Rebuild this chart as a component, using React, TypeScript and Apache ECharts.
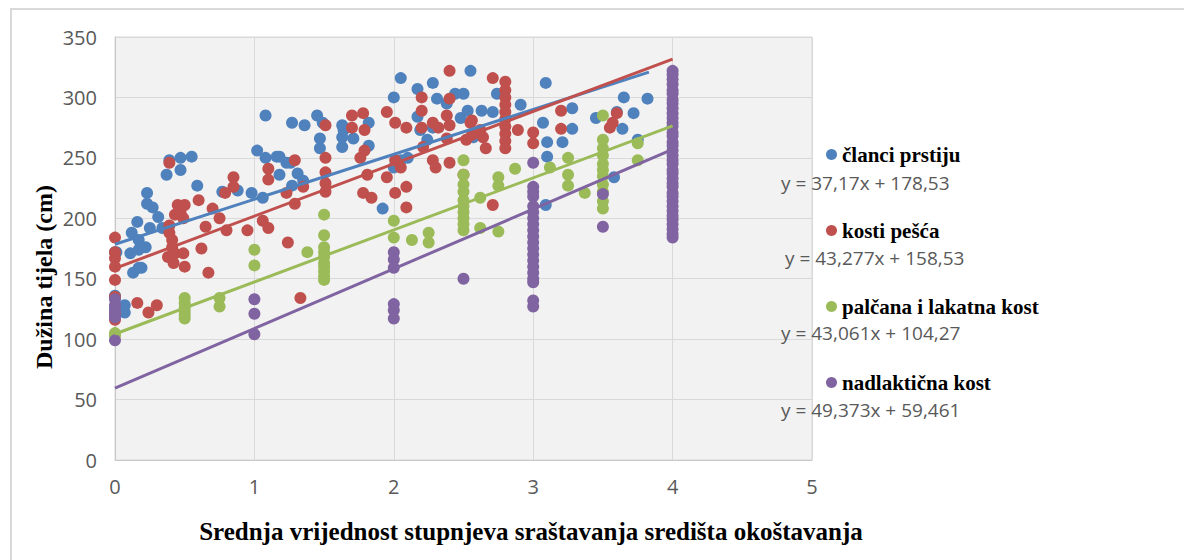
import React, { useEffect, useRef } from "react";
import * as echarts from "echarts";

// ---------- data ----------
const seriesNames = ["članci prstiju", "kosti pešća", "palčana i lakatna kost", "nadlaktična kost"];
const seriesColors = ["#4F81BD", "#C0504D", "#9BBB59", "#8064A2"];

const clanciPrstiju: number[][] = [
  [0, 172], [0, 136], [0, 126], [0.01, 172], [0.07, 128], [0.07, 122], [0.11, 171], [0.12, 188], [0.13, 155],
  [0.16, 197], [0.17, 182], [0.17, 174], [0.17, 159], [0.19, 159], [0.22, 176], [0.23, 221], [0.23, 212],
  [0.25, 192], [0.27, 209], [0.31, 201], [0.34, 192], [0.37, 236], [0.39, 248], [0.47, 250], [0.47, 240],
  [0.55, 251], [0.59, 227], [0.77, 222], [0.88, 223], [0.98, 221], [1.02, 256], [1.06, 217], [1.08, 250],
  [1.08, 285], [1.16, 251], [1.18, 251], [1.18, 236], [1.23, 246], [1.26, 246], [1.27, 227], [1.27, 279],
  [1.31, 237], [1.35, 231], [1.36, 277], [1.45, 285], [1.47, 266], [1.47, 258], [1.49, 279], [1.63, 277],
  [1.63, 267], [1.63, 259], [1.64, 273], [1.71, 266], [1.82, 279], [1.82, 260], [1.92, 208], [2.0, 300],
  [2.0, 242], [2.05, 316], [2.05, 248], [2.1, 250], [2.17, 307], [2.17, 284], [2.19, 273], [2.24, 265],
  [2.28, 312], [2.28, 275], [2.31, 299], [2.38, 295], [2.44, 303], [2.48, 283], [2.5, 303], [2.53, 289],
  [2.55, 322], [2.57, 267], [2.63, 289], [2.71, 288], [2.74, 303], [2.91, 294], [3.07, 279], [3.09, 312],
  [3.09, 211], [3.1, 263], [3.1, 251], [3.21, 263], [3.28, 291], [3.28, 274], [3.45, 283], [3.58, 234],
  [3.6, 288], [3.64, 274], [3.65, 300], [3.72, 287], [3.75, 265], [3.82, 299],
];

const kostiPesca: number[][] = [
  [0, 184], [0, 172], [0, 167], [0, 160], [0, 149], [0, 135], [0, 121], [0, 116], [0.16, 130], [0.24, 122],
  [0.3, 128], [0.38, 168], [0.39, 246], [0.39, 194], [0.39, 188], [0.41, 182], [0.41, 176], [0.42, 163],
  [0.43, 171], [0.43, 203], [0.45, 211], [0.47, 205], [0.49, 200], [0.49, 171], [0.5, 211], [0.5, 160],
  [0.6, 215], [0.62, 175], [0.65, 193], [0.67, 155], [0.7, 208], [0.75, 200], [0.79, 221], [0.8, 190],
  [0.85, 234], [0.85, 226], [0.95, 190], [1.06, 198], [1.1, 192], [1.1, 241], [1.1, 232], [1.23, 221],
  [1.24, 180], [1.29, 248], [1.29, 212], [1.33, 134], [1.35, 226], [1.51, 277], [1.51, 250], [1.51, 238],
  [1.51, 229], [1.51, 222], [1.7, 285], [1.7, 275], [1.76, 250], [1.78, 287], [1.78, 221], [1.79, 273],
  [1.79, 256], [1.81, 236], [1.84, 217], [1.95, 288], [1.95, 234], [2.01, 279], [2.01, 248], [2.01, 221],
  [2.05, 242], [2.09, 275], [2.09, 226], [2.09, 209], [2.2, 300], [2.2, 289], [2.2, 275], [2.21, 259],
  [2.28, 279], [2.28, 248], [2.3, 242], [2.32, 275], [2.38, 285], [2.38, 266], [2.4, 322], [2.4, 299],
  [2.4, 277], [2.4, 246], [2.5, 236], [2.52, 265], [2.55, 279], [2.56, 269], [2.56, 281], [2.62, 273],
  [2.64, 267], [2.66, 258], [2.71, 316], [2.71, 211], [2.8, 313], [2.8, 306], [2.8, 300], [2.8, 294],
  [2.8, 288], [2.8, 282], [2.8, 276], [2.8, 270], [2.8, 264], [2.8, 258], [2.89, 273], [3.0, 271],
  [3.0, 262], [3.2, 289], [3.2, 274], [3.55, 275], [3.57, 279], [3.6, 287],
];

const palcanaLakatna: number[][] = [
  [0, 105], [0, 103], [0.5, 134], [0.5, 130], [0.5, 126], [0.5, 123], [0.5, 120], [0.5, 117], [0.75, 134],
  [0.75, 127], [1, 174], [1, 161], [1.38, 172], [1.5, 203], [1.5, 186], [1.5, 176], [1.5, 172], [1.5, 168],
  [1.5, 163], [1.5, 160], [1.5, 156], [1.5, 152], [1.5, 149], [2, 198], [2, 184], [2.13, 182], [2.25, 188],
  [2.25, 180], [2.5, 248], [2.5, 236], [2.5, 228], [2.5, 222], [2.5, 215], [2.5, 210], [2.5, 205], [2.5, 200],
  [2.5, 195], [2.5, 190], [2.62, 217], [2.62, 192], [2.75, 234], [2.75, 227], [2.75, 189], [2.87, 241],
  [3.12, 242], [3.25, 250], [3.25, 236], [3.25, 227], [3.37, 221], [3.5, 285], [3.5, 265], [3.5, 258],
  [3.5, 252], [3.5, 245], [3.5, 240], [3.5, 235], [3.5, 228], [3.5, 222], [3.5, 214], [3.5, 208],
  [3.75, 262], [3.75, 248],
];

const nadlakticna: number[][] = [
  [0, 133], [0, 128], [0, 124], [0, 120], [0, 118], [0, 99], [1, 133], [1, 121], [1, 104], [2, 172],
  [2, 166], [2, 159], [2, 129], [2, 124], [2, 117], [2.5, 150], [3, 246], [3, 226], [3, 222], [3, 218],
  [3, 210], [3, 205], [3, 200], [3, 195], [3, 190], [3, 185], [3, 180], [3, 175], [3, 170], [3, 165],
  [3, 160], [3, 155], [3, 150], [3, 147], [3, 132], [3, 127], [3.5, 220], [3.5, 193], [4, 322], [4, 319],
  [4, 315], [4, 311], [4, 306], [4, 303], [4, 298], [4, 295], [4, 291], [4, 287], [4, 283], [4, 279],
  [4, 276], [4, 271], [4, 268], [4, 263], [4, 260], [4, 256], [4, 252], [4, 248], [4, 245], [4, 240],
  [4, 237], [4, 233], [4, 229], [4, 226], [4, 221], [4, 218], [4, 214], [4, 210], [4, 206], [4, 202],
  [4, 199], [4, 195], [4, 191], [4, 187], [4, 184],
];

// linear trend lines as printed on the chart
const trendSlopes = [37.17, 43.277, 43.061, 49.373];
const trendIntercepts = [178.53, 158.53, 104.27, 59.461];
const trendXMin = [0, 0, 0, 0];
const trendXMax = [3.83, 4, 4, 4];
const trendLabels = [
  "y = 37,17x + 178,53",
  "y = 43,277x + 158,53",
  "y = 43,061x + 104,27",
  "y = 49,373x + 59,461",
];

const xTitle = "Srednja vrijednost stupnjeva sraštavanja središta okoštavanja";
const yTitle = "Dužina tijela (cm)";

const allSeries = [clanciPrstiju, kostiPesca, palcanaLakatna, nadlakticna];

export default function App() {
  const ref = useRef<HTMLDivElement>(null);
  useEffect(() => {
    if (!ref.current) return;
    const chart = echarts.init(ref.current, undefined, { renderer: "svg" });

    const scatterSeries = allSeries.map((d, i) => ({
      name: seriesNames[i],
      type: "scatter",
      data: d,
      symbol: "circle",
      symbolSize: 12,
      itemStyle: { color: seriesColors[i], opacity: 1 },
      z: 2,
    }));
    const trendSeries = trendSlopes.map((m, i) => ({
      name: "trend " + seriesNames[i],
      type: "line",
      data: [
        [trendXMin[i], m * trendXMin[i] + trendIntercepts[i]],
        [trendXMax[i], m * trendXMax[i] + trendIntercepts[i]],
      ],
      showSymbol: false,
      symbol: "none",
      lineStyle: { color: seriesColors[i], width: 3 },
      itemStyle: { color: seriesColors[i] },
      z: 3,
    }));

    const eqY = [183, 258, 333, 410];
    const eqX = [781, 785, 781, 781];

    chart.setOption({
      animation: false,
      backgroundColor: "#ffffff",
      grid: {
        left: 115,
        top: 37,
        width: 697,
        height: 423,
        show: true,
        backgroundColor: "#f2f2f2",
        borderColor: "#d9d9d9",
        borderWidth: 1,
      },
      xAxis: {
        type: "value",
        min: 0,
        max: 5,
        interval: 1,
        axisLine: { show: true, lineStyle: { color: "#c8c8c8", width: 1 } },
        axisTick: { show: false },
        splitLine: { show: true, lineStyle: { color: "#d9d9d9", width: 1 } },
        axisLabel: { color: "#595959", fontSize: 20, fontFamily: "Open Sans", margin: 16 },
      },
      yAxis: {
        type: "value",
        min: 0,
        max: 350,
        interval: 50,
        axisLine: { show: true, lineStyle: { color: "#c8c8c8", width: 1 } },
        axisTick: { show: false },
        splitLine: { show: true, lineStyle: { color: "#d9d9d9", width: 1 } },
        axisLabel: { color: "#595959", fontSize: 20, fontFamily: "Open Sans", margin: 18 },
      },
      legend: {
        orient: "vertical",
        left: 821,
        top: 139,
        data: seriesNames,
        icon: "circle",
        itemWidth: 11,
        itemHeight: 11,
        itemGap: 55,
        textStyle: {
          fontFamily: "Liberation Serif",
          fontWeight: "bold",
          fontSize: 21,
          lineHeight: 20,
          color: "#000000",
        },
        selectedMode: false,
      },
      graphic: [
        {
          type: "rect",
          silent: true,
          shape: { x: 11, y: 9, width: 1400, height: 800 },
          style: { fill: "none", stroke: "#d9d9d9", lineWidth: 2 },
        },
        ...trendLabels.map((t, i) => ({
          type: "text",
          x: eqX[i],
          y: eqY[i],
          z: 10,
          style: {
            text: t,
            fontFamily: "Open Sans",
            fontSize: 19,
            fill: "#595959",
            textAlign: "left",
            align: "left",
            textVerticalAlign: "middle",
            verticalAlign: "middle",
          },
        })),
        {
          type: "text",
          x: 531,
          y: 531,
          style: {
            text: xTitle,
            fontFamily: "Liberation Serif",
            fontWeight: "bold",
            fontSize: 25,
            fill: "#000000",
            textAlign: "center",
            align: "center",
            textVerticalAlign: "middle",
            verticalAlign: "middle",
          },
        },
        {
          type: "text",
          x: 44,
          y: 277,
          rotation: Math.PI / 2,
          style: {
            text: yTitle,
            fontFamily: "Liberation Serif",
            fontWeight: "bold",
            fontSize: 24,
            fill: "#000000",
            textAlign: "center",
            align: "center",
            textVerticalAlign: "middle",
            verticalAlign: "middle",
          },
        },
      ],
      series: [...scatterSeries, ...trendSeries],
    });

    return () => chart.dispose();
  }, []);

  return (
    <div
      ref={ref}
      style={{ position: "fixed", left: 0, top: 0, width: 1184, height: 560 }}
    />
  );
}
